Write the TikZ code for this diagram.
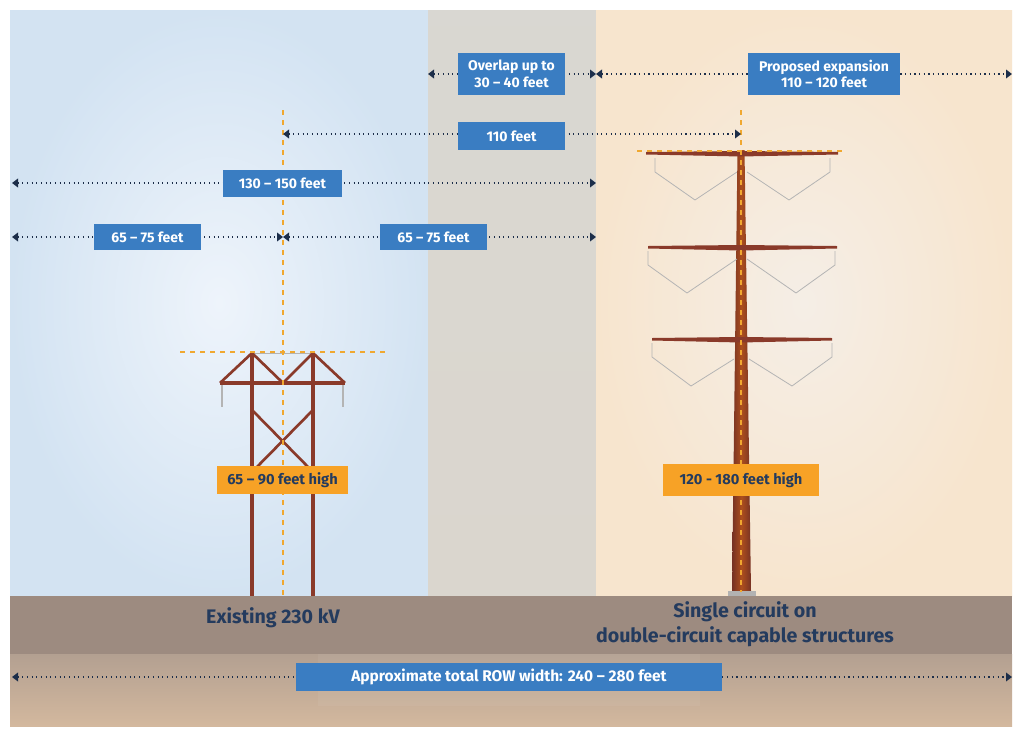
\documentclass[tikz,border=0pt]{standalone}
\usepackage{fontspec}
\setmainfont{Fira Sans}
\usetikzlibrary{arrows.meta}
\definecolor{lblue}{HTML}{3A7DC2}
\definecolor{navy}{HTML}{1C2E4A}
\definecolor{gtext}{HTML}{243B5E}
\definecolor{orng}{HTML}{F7A226}
\definecolor{dorng}{HTML}{F0A830}
\definecolor{towerc}{HTML}{8A3A2A}
\definecolor{skyin}{HTML}{EEF4FB}
\definecolor{skyout}{HTML}{D3E3F2}
\definecolor{midgray}{HTML}{DAD6CE}
\definecolor{begin}{HTML}{F5EEE6}
\definecolor{begout}{HTML}{F7E5CE}
\definecolor{groundc}{HTML}{9D8B80}
\definecolor{soiltop}{HTML}{B3A091}
\definecolor{soilbot}{HTML}{D3B89E}
\definecolor{insul}{HTML}{B4B4B4}
\begin{document}
\begin{tikzpicture}[x=0.75pt,y=-0.75pt,
  lbl/.style={fill=lblue, text=white, font=\bfseries\fontsize{10.5}{12.5}\selectfont, align=center, inner sep=0pt, minimum height=21pt},
  hlbl/.style={fill=orng, text=gtext, font=\bfseries\fontsize{11}{13}\selectfont, inner sep=0pt, minimum height=21pt},
  dim/.style={draw=navy, line width=1.2pt, dash pattern=on 0.9pt off 2.6pt},
  tipb/.style={{Triangle[length=4.5pt,width=6.5pt]}-{Triangle[length=4.5pt,width=6.5pt]}},
  guide/.style={draw=dorng, line width=1pt, dash pattern=on 4pt off 3.5pt},
  member/.style={draw=towerc, line width=2.4pt},
  brace/.style={draw=towerc, line width=2pt},
  istring/.style={draw=insul, line width=0.6pt},
  gtxt/.style={text=gtext, font=\bfseries\fontsize{14.7}{19}\selectfont, align=center}
]
\useasboundingbox (0,0) rectangle (1024,736);
\fill[white] (0,0) rectangle (1024,736);
% sky panels
\shade[inner color=skyin, outer color=skyout] (10,10) rectangle (428,596);
\shade[top color=midgray!90!skyout, bottom color=midgray] (428,10) rectangle (596,596);
\shade[inner color=begin, outer color=begout] (596,10) rectangle (1012,596);
% ground
\fill[groundc] (10,596) rectangle (1012,654);
\shade[top color=soiltop, bottom color=soilbot] (10,654) rectangle (1012,726);
\fill[white, opacity=0.05] (318,654) rectangle (700,706);

% ---------- existing tower ----------
\coordinate (eLt) at (252,353);
\coordinate (eRt) at (313,353);
\coordinate (eLb) at (252,596);
\coordinate (eRb) at (313,596);
\coordinate (eArmL) at (220,383);
\coordinate (eArmR) at (345,383);
\coordinate (eArmC) at (283,383);
\draw[insul, line width=0.5pt] (eLt) -- (eRt);
\draw[istring, line width=1pt] (222,385) -- (222,407);
\draw[istring, line width=1pt] (343,385) -- (343,407);
\draw[member] (eLt) -- (eLb);
\draw[member] (eRt) -- (eRb);
\draw[member] (eArmL) -- (eArmR);
\draw[brace] (eLt) -- (eArmL);
\draw[brace] (eLt) -- (eArmC);
\draw[brace] (eRt) -- (eArmC);
\draw[brace] (eRt) -- (eArmR);
\draw[brace] (252,410) -- (313,472);
\draw[brace] (313,410) -- (252,472);

% ---------- new pole ----------
\shade[left color=towerc!85!black, right color=towerc!85!black, middle color=towerc!70!orange]
  (737.5,150) -- (744.5,150) -- (751,591) -- (732,591) -- cycle;
\fill[gray!60] (728,591) rectangle (756,596);
\foreach \ya/\xl/\xr in {153/646/838, 247/648/837, 339/652/832}{
  \fill[towerc] (\xl,\ya-1) -- (741,\ya-2) -- (\xr,\ya-1) -- (\xr,\ya+1.5) -- (741,\ya+3.5) -- (\xl,\ya+1.5) -- cycle;
}
% insulator strings
\draw[istring] (655,158) -- (655,172) -- (695,200) -- (737,172);
\draw[istring] (830,158) -- (830,172) -- (789,200) -- (747,172);
\draw[istring] (648,251) -- (648,265) -- (687,293) -- (737,259);
\draw[istring] (835,251) -- (835,265) -- (796,293) -- (747,259);
\draw[istring] (652,343) -- (652,357) -- (691,386) -- (734,359);
\draw[istring] (832,343) -- (832,357) -- (792,386) -- (749,359);

% ---------- guide lines ----------
\coordinate (gE1) at (283,110);
\coordinate (gE2) at (283,596);
\coordinate (gEh1) at (180,352);
\coordinate (gEh2) at (386,352);
\coordinate (gN1) at (741,110);
\coordinate (gN2) at (741,592);
\coordinate (gNh1) at (637,151);
\coordinate (gNh2) at (846,151);
\draw[guide] (gE1) -- (gE2);
\draw[guide] (gEh1) -- (gEh2);
\draw[guide] (gN1) -- (gN2);
\draw[guide] (gNh1) -- (gNh2);

% ---------- dimension lines ----------
\coordinate (a1) at (428,74);
\coordinate (a2) at (596,74);
\coordinate (a3) at (1012,74);
\coordinate (b1) at (283,134);
\coordinate (b2) at (741,134);
\coordinate (c1) at (12,183);
\coordinate (c2) at (596,183);
\coordinate (d1) at (12,237);
\coordinate (d2) at (283,237);
\coordinate (d3) at (596,237);
\coordinate (r1) at (12,677);
\coordinate (r2) at (1012,677);
\draw[dim, tipb] (a1) -- (a2);
\draw[dim, tipb] (a2) -- (a3);
\draw[dim, tipb] (b1) -- (b2);
\draw[dim, tipb] (c1) -- (c2);
\draw[dim, tipb] (d1) -- (d2);
\draw[dim, tipb] (d2) -- (d3);
\draw[dim, tipb] (r1) -- (r2);

% ---------- labels ----------
\node[lbl, minimum width=80pt, minimum height=31.5pt] (overlap) at (511.5,74) {Overlap up to\\30 -- 40 feet};
\node[lbl, minimum width=114pt, minimum height=31.5pt] (prop) at (824,74) {Proposed expansion\\110 -- 120 feet};
\node[lbl, minimum width=80pt] (l110) at (511.5,136) {110 feet};
\node[lbl, minimum width=89pt, minimum height=20pt] (l130) at (282.5,183.5) {130 -- 150 feet};
\node[lbl, minimum width=80pt, minimum height=20pt] (l65a) at (147.5,237) {65 -- 75 feet};
\node[lbl, minimum width=80pt, minimum height=20pt] (l65b) at (433.5,237) {65 -- 75 feet};
\node[lbl, minimum width=320pt, font=\bfseries\fontsize{11.6}{13}\selectfont] (row) at (509,677) {Approximate total ROW width: 240 -- 280 feet};
\node[hlbl, minimum width=98pt] (h1) at (282.5,480) {65 -- 90 feet high};
\node[hlbl, minimum width=117pt, minimum height=24pt] (h2) at (741,480) {120 - 180 feet high};
\node[gtxt] (ex) at (273,618) {Existing 230 kV};
\node[gtxt] (sc) at (745,624) {Single circuit on\\double-circuit capable structures};
\end{tikzpicture}
\end{document}
